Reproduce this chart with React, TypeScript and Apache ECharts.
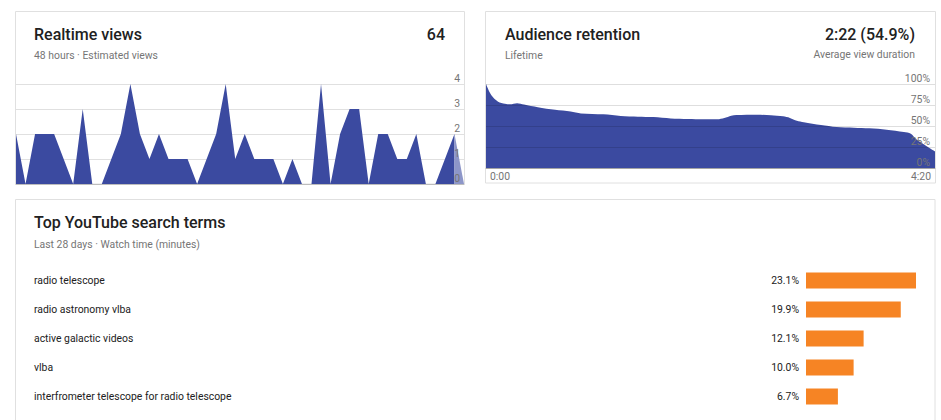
import React, { useEffect, useRef } from "react";
import * as echarts from "echarts";

// ---- Realtime views (48 hours) ----
const realtimeViews = [2, 0, 2, 2, 2, 1, 0, 3, 0, 0, 1, 2, 4, 2, 1, 2, 1, 1, 1, 0, 1, 2, 4, 1, 2, 1, 1, 1, 0, 1, 0, 0, 4, 0, 2, 3, 3, 0, 2, 2, 1, 1, 2, 0, 0, 1, 2, 0];
const realtimeHours = realtimeViews.map((_, i) => `${i - 47}h`);
const realtimeTotal = "64";

// ---- Audience retention ----
const retentionSeconds = [0, 3, 7, 11, 14, 18, 22, 30, 40, 49, 55, 68, 78, 88, 97, 107, 117, 126, 134, 138, 142, 145, 157, 165, 172, 176, 180, 184, 194, 203, 213, 222, 232, 242, 246, 249, 253, 260];
const retentionPct = [100, 87, 79, 76.6, 75.8, 77.2, 75.6, 72.4, 69.2, 67.2, 65, 63.9, 61.9, 61.1, 60.6, 59, 58.3, 57.9, 57.9, 59.4, 62.2, 63, 63.5, 62.7, 61.5, 59.6, 56.2, 54.5, 51.2, 48.8, 48, 47.2, 45.6, 42.9, 40.9, 34.5, 29, 19.8];
const retentionSummary = "2:22 (54.9%)";

// ---- Top YouTube search terms ----
const searchTerms = ["radio telescope", "radio astronomy vlba", "active galactic videos", "vlba", "interfrometer telescope for radio telescope"];
const searchShares = [23.1, 19.9, 12.1, 10.0, 6.7];

const FONT = "Roboto, 'Noto Sans', sans-serif";
const BLUE = "#3b4aa0";
const ORANGE = "#f68424";
const SMALL = 10.4;

function fmtTime(s: number) {
  const m = Math.floor(s / 60);
  const sec = Math.round(s % 60);
  return `${m}:${sec < 10 ? "0" : ""}${sec}`;
}

export default function App() {
  const ref = useRef<HTMLDivElement>(null);

  useEffect(() => {
    document.body.style.margin = "0";
    const chart = echarts.init(ref.current!, undefined, { renderer: "svg" });

    const titleStyle = { fontFamily: FONT, fontSize: 16, fontWeight: 500, fill: "#212121" } as any;
    const subStyle = { fontFamily: FONT, fontSize: SMALL, fill: "#757575" } as any;

    const option: any = {
      animation: false,
      backgroundColor: "#ffffff",
      textStyle: { fontFamily: FONT },
      graphic: [
        { type: "rect", z: -10, shape: { x: 15.5, y: 11.5, width: 449, height: 172.5 }, style: { fill: "#fff", stroke: "#e0e0e0", lineWidth: 1 } },
        { type: "rect", z: -10, shape: { x: 485.5, y: 11.5, width: 450, height: 171.5 }, style: { fill: "#fff", stroke: "#e0e0e0", lineWidth: 1 } },
        { type: "rect", z: -10, shape: { x: 15.5, y: 199.5, width: 919.5, height: 240 }, style: { fill: "#fff", stroke: "#e0e0e0", lineWidth: 1 } },

        { type: "text", x: 34, y: 34, style: { ...titleStyle, text: "Realtime views", textVerticalAlign: "middle" } },
        { type: "text", x: 34, y: 55, style: { ...subStyle, text: "48 hours · Estimated views", textVerticalAlign: "middle" } },
        { type: "text", x: 445, y: 34, style: { ...titleStyle, text: realtimeTotal, textAlign: "right", textVerticalAlign: "middle" } },

        { type: "text", x: 505, y: 34, style: { ...titleStyle, text: "Audience retention", textVerticalAlign: "middle" } },
        { type: "text", x: 505, y: 55, style: { ...subStyle, text: "Lifetime", textVerticalAlign: "middle" } },
        { type: "text", x: 915, y: 34, style: { ...titleStyle, text: retentionSummary, textAlign: "right", textVerticalAlign: "middle" } },
        { type: "text", x: 915, y: 54, style: { ...subStyle, text: "Average view duration", textAlign: "right", textVerticalAlign: "middle" } },

        { type: "text", x: 34, y: 222, style: { ...titleStyle, text: "Top YouTube search terms", textVerticalAlign: "middle" } },
        { type: "text", x: 34, y: 244, style: { ...subStyle, text: "Last 28 days · Watch time (minutes)", textVerticalAlign: "middle" } },
      ],
      grid: [
        { left: 16, width: 448, top: 84, height: 100 },
        { left: 486, width: 449, top: 84, height: 84 },
        { left: 806, width: 110, top: 266, height: 145 },
      ],
      xAxis: [
        {
          gridIndex: 0, type: "category", data: realtimeHours, boundaryGap: false,
          axisLine: { lineStyle: { color: "#bdbdbd" } }, axisTick: { show: false }, axisLabel: { show: false }, splitLine: { show: false },
        },
        {
          gridIndex: 1, type: "value", min: 0, max: 260, interval: 260,
          axisLine: { lineStyle: { color: "#bdbdbd" } }, axisTick: { show: false }, splitLine: { show: false },
          axisLabel: {
            formatter: (v: number) => fmtTime(v), color: "#757575", fontSize: SMALL, margin: 3,
            alignMinLabel: "left", alignMaxLabel: "right", padding: [0, 4, 0, 4],
          },
        },
        {
          gridIndex: 2, type: "value", min: 0, max: 23.1,
          show: false, splitLine: { show: false },
        },
      ],
      yAxis: [
        {
          gridIndex: 0, type: "value", min: 0, max: 4, interval: 1, position: "right",
          axisLine: { show: false }, axisTick: { show: false }, axisLabel: { show: false },
          splitLine: { lineStyle: { color: "#e0e0e0" } },
        },
        {
          gridIndex: 1, type: "value", min: 0, max: 100, interval: 25, position: "right", z: 5,
          axisLine: { show: false }, axisTick: { show: false },
          axisLabel: { inside: true, color: "#757575", fontSize: SMALL, margin: 5, verticalAlign: "bottom", padding: [0, 0, 1, 0], formatter: "{value}%" },
          splitLine: { lineStyle: { color: "rgba(0,0,0,0.13)" } },
        },
        {
          gridIndex: 2, type: "category", data: searchTerms, inverse: true,
          axisLine: { show: false }, axisTick: { show: false }, splitLine: { show: false },
          axisLabel: { align: "left", margin: 772, color: "#212121", fontSize: SMALL },
        },
        {
          gridIndex: 0, type: "value", min: 0, max: 4, interval: 1, position: "right", z: 5,
          axisLine: { show: false }, axisTick: { show: false }, splitLine: { show: false },
          axisLabel: { inside: true, color: "#757575", fontSize: SMALL, margin: 4, verticalAlign: "bottom", padding: [0, 0, 1, 0] },
        },
      ],
      series: [
        {
          type: "line", xAxisIndex: 0, yAxisIndex: 0,
          data: realtimeViews.map((v, i) => (i <= realtimeViews.length - 2 ? v : null)),
          symbol: "none", lineStyle: { width: 0 }, areaStyle: { color: BLUE, opacity: 1 },
        },
        {
          type: "line", xAxisIndex: 0, yAxisIndex: 0,
          data: realtimeViews.map((v, i) => (i >= realtimeViews.length - 2 ? v : null)),
          symbol: "none", lineStyle: { width: 0 }, areaStyle: { color: "#8d96c8", opacity: 1 },
        },
        {
          type: "line", xAxisIndex: 1, yAxisIndex: 1,
          data: retentionSeconds.map((s, i) => [s, retentionPct[i]]),
          smooth: 0.3, symbol: "none", lineStyle: { width: 0 }, areaStyle: { color: BLUE, opacity: 1 },
        },
        {
          type: "bar", xAxisIndex: 2, yAxisIndex: 2, data: searchShares, barWidth: 16,
          itemStyle: { color: ORANGE },
          label: {
            show: true, position: "left", distance: 7, color: "#212121", fontSize: SMALL,
            formatter: (p: any) => `${Number(p.value).toFixed(1)}%`,
          },
        },
      ],
    };

    chart.setOption(option);
    return () => chart.dispose();
  }, []);

  return <div ref={ref} style={{ width: 941, height: 420 }} />;
}
